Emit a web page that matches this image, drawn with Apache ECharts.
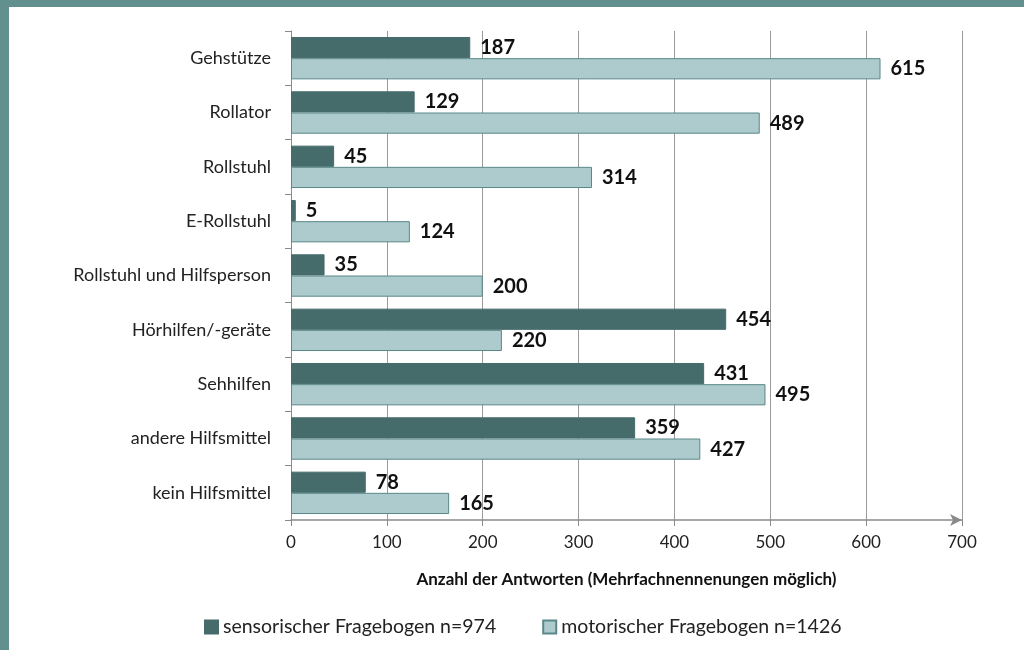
<!DOCTYPE html>
<html>
<head>
<meta charset="utf-8">
<script src="https://cdn.jsdelivr.net/npm/echarts@6/dist/echarts.min.js"></script>
<style>
  html, body { margin: 0; padding: 0; background: #fff; }
  #chart { width: 1024px; height: 650px; }
</style>
</head>
<body>
<div id="chart"></div>
<script>
// Kategorien und Werte
let categories = ["Gehstütze", "Rollator", "Rollstuhl", "E-Rollstuhl", "Rollstuhl und Hilfsperson",
  "Hörhilfen/-geräte", "Sehhilfen", "andere Hilfsmittel", "kein Hilfsmittel"];
let sensorisch = [187, 129, 45, 5, 35, 454, 431, 359, 78];
let motorisch = [615, 489, 314, 124, 200, 220, 495, 427, 165];
let seriesNames = ["sensorischer Fragebogen n=974", "motorischer Fragebogen n=1426"];

let font = "Lato, 'Open Sans', sans-serif";

let dom = echarts.init(document.getElementById("chart"));
dom.setOption({
  animation: false,
  textStyle: { fontFamily: font },
  graphic: [
    { type: "rect", shape: { x: 0, y: 0, width: 1024, height: 7 }, style: { fill: "#62908f" } },
    { type: "rect", shape: { x: 0, y: 0, width: 9, height: 650 }, style: { fill: "#62908f" } }
  ],
  legend: {
    left: 199,
    bottom: 8,
    itemWidth: 13,
    itemHeight: 13,
    itemGap: 46,
    icon: "rect",
    textStyle: { fontSize: 19.5, color: "#222", fontFamily: font },
    data: seriesNames
  },
  grid: { left: 291, right: 62, top: 31, bottom: 130 },
  xAxis: {
    type: "value",
    min: 0,
    max: 700,
    interval: 100,
    name: "Anzahl der Antworten (Mehrfachnennenungen möglich)",
    nameLocation: "middle",
    nameGap: 51,
    nameTextStyle: { fontSize: 17, fontWeight: "bold", color: "#111", fontFamily: font },
    axisLine: { show: true, symbol: ["none", "arrow"], symbolSize: [9, 12], lineStyle: { color: "#8a8a8a", width: 1.5 } },
    axisTick: { show: true, length: 6, lineStyle: { color: "#8a8a8a" } },
    axisLabel: { fontSize: 17, color: "#222", margin: 14 },
    splitLine: { show: true, lineStyle: { color: "#9a9a9a", width: 1 } }
  },
  yAxis: {
    type: "category",
    inverse: true,
    data: categories,
    axisLine: { show: true, lineStyle: { color: "#8a8a8a" } },
    axisTick: { show: true, length: 6, lineStyle: { color: "#8a8a8a" } },
    axisLabel: { fontSize: 18, color: "#222", margin: 20 }
  },
  series: [
    {
      name: seriesNames[0],
      type: "bar",
      barGap: 0,
      barCategoryGap: "22%",
      itemStyle: { color: "#466b6b", borderColor: "#466b6b", borderWidth: 1 },
      label: { show: true, position: "right", distance: 10, fontSize: 20, fontWeight: "bold", color: "#111" },
      data: sensorisch
    },
    {
      name: seriesNames[1],
      type: "bar",
      barGap: 0,
      barCategoryGap: "22%",
      itemStyle: { color: "#adcbcd", borderColor: "#5a8789", borderWidth: 1 },
      label: { show: true, position: "right", distance: 10, fontSize: 20, fontWeight: "bold", color: "#111" },
      data: motorisch
    }
  ]
});
dom.resize();
</script>
</body>
</html>
